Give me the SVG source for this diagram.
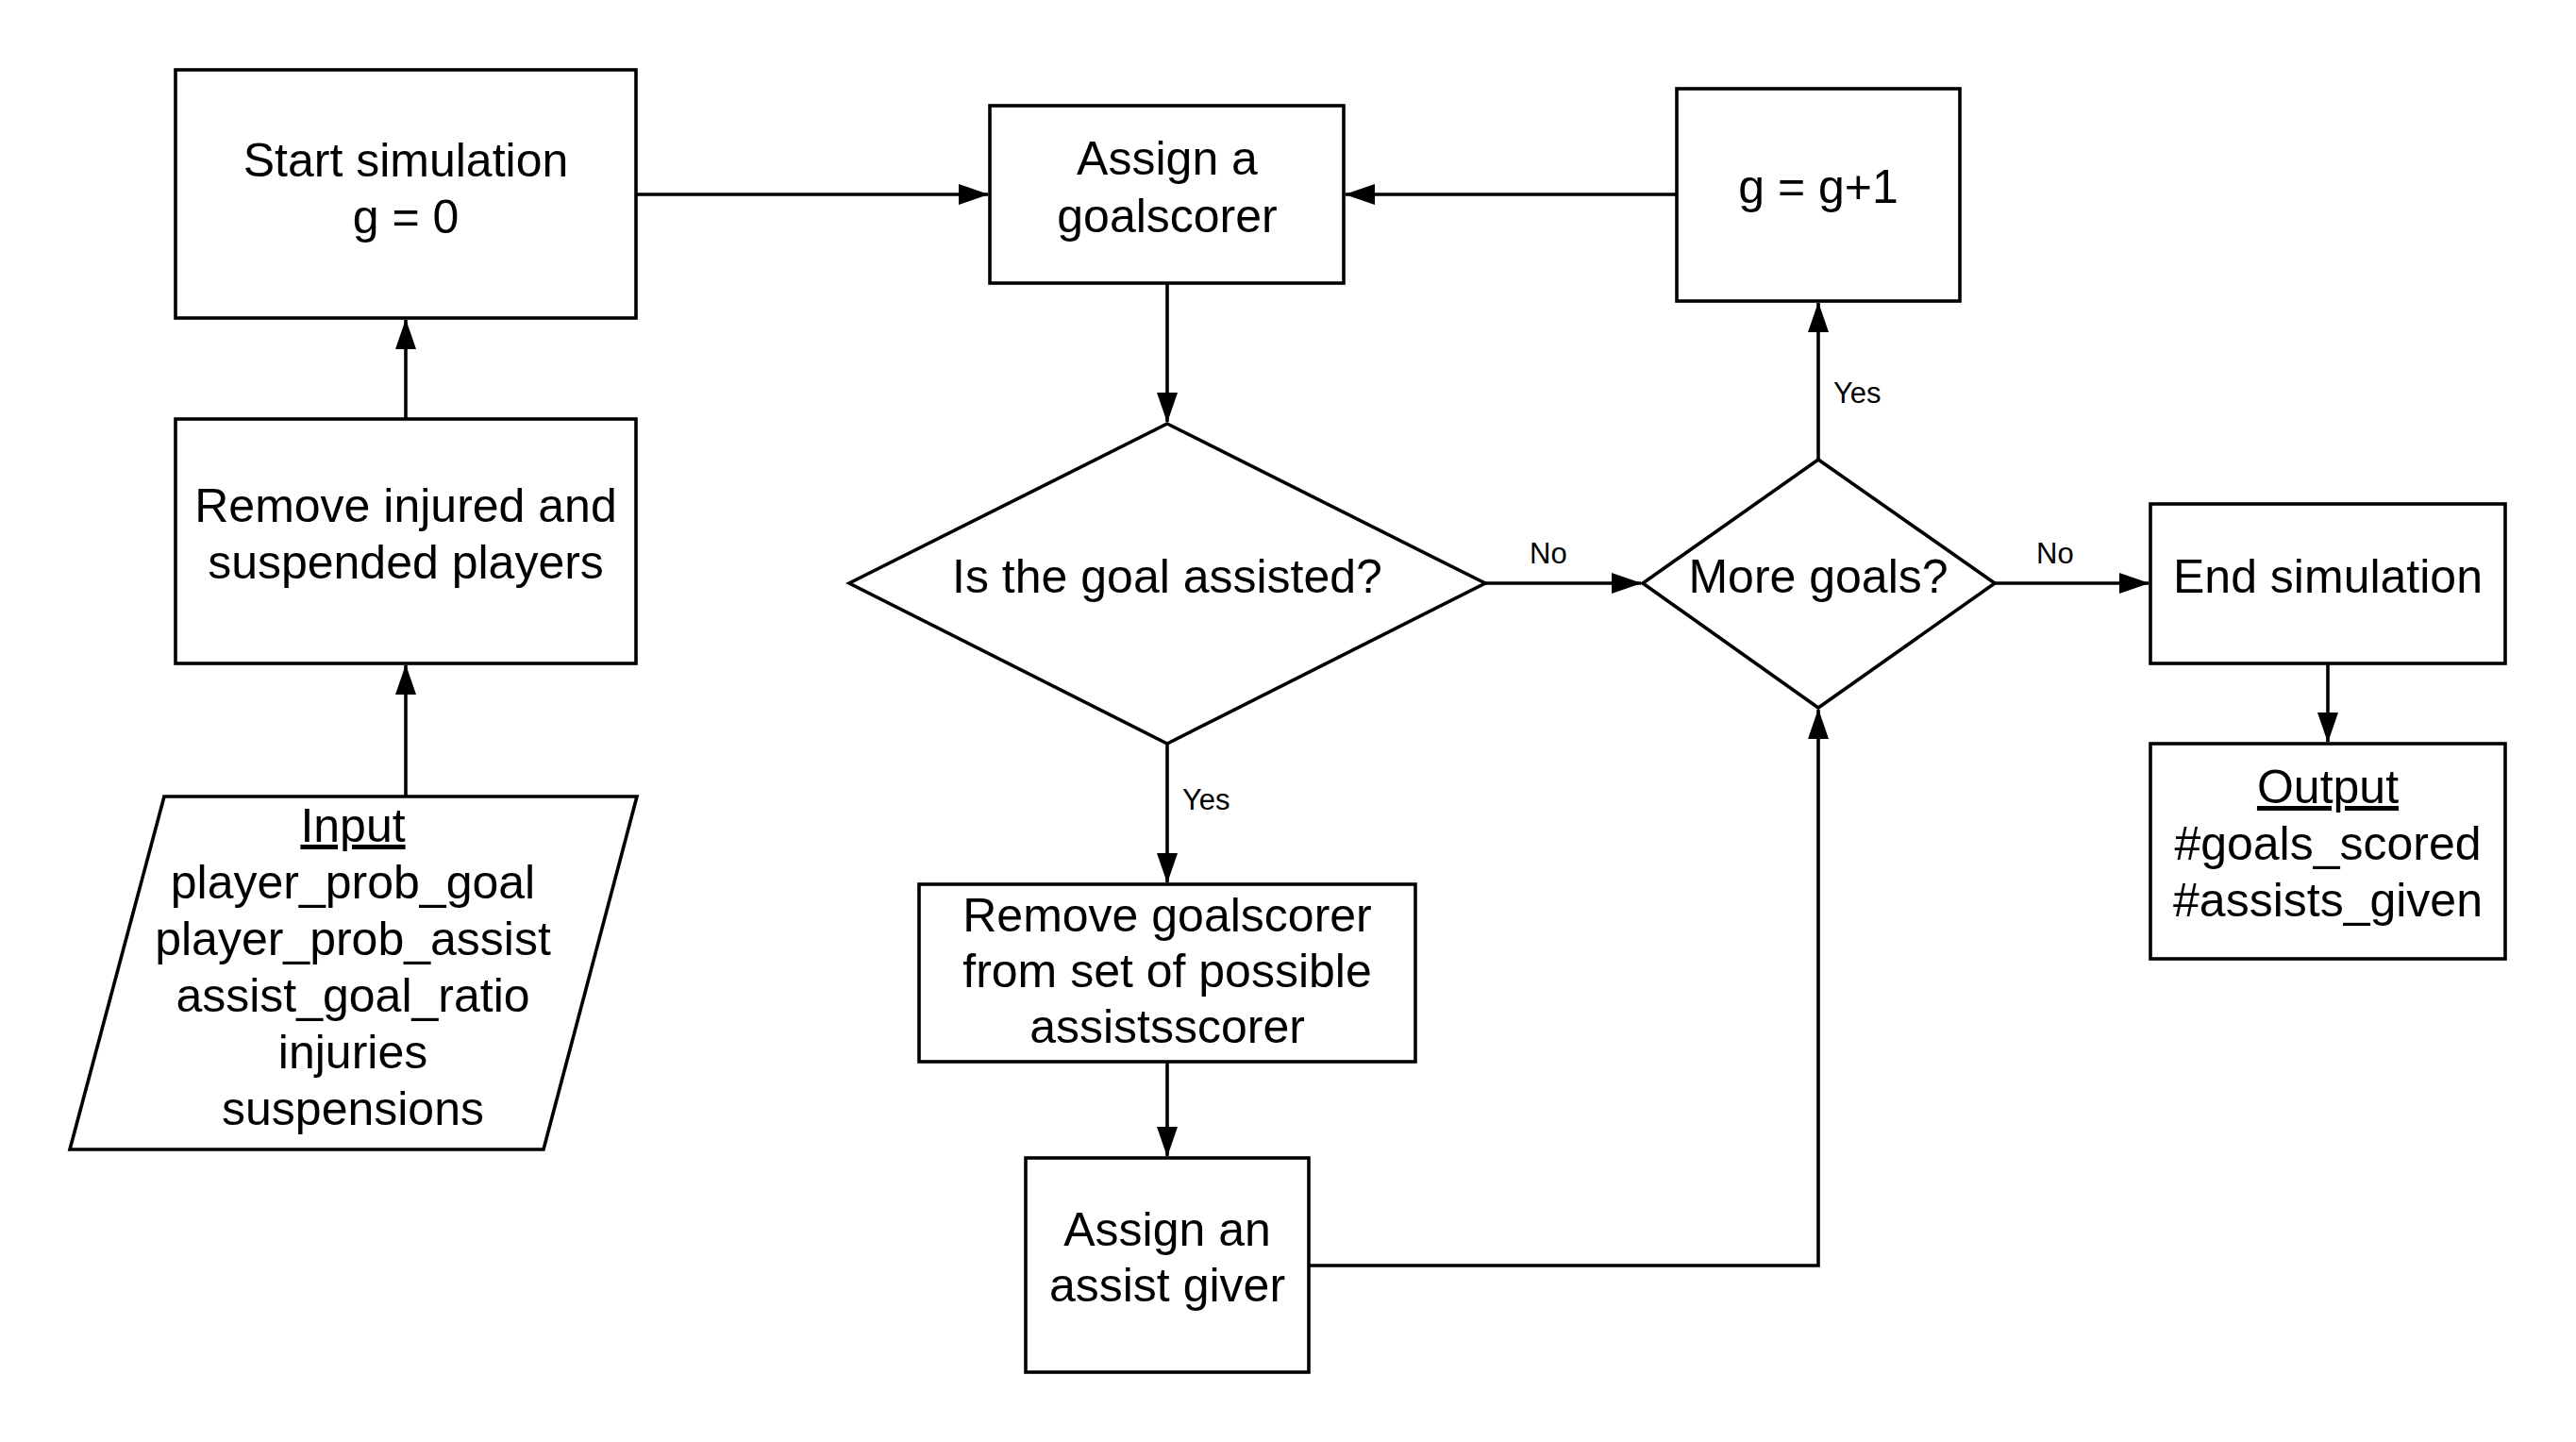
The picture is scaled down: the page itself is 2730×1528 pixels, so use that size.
<svg xmlns="http://www.w3.org/2000/svg" width="2730" height="1528" viewBox="0 0 2730 1528">
  <style>
    .shape { fill: #ffffff; stroke: #000000; stroke-width: 3.6; }
    .conn { fill: none; stroke: #000000; stroke-width: 3.6; }
    .t { font-family: "Liberation Sans", Arial, sans-serif; font-size: 50px; fill: #000000; text-anchor: middle; }
    .lbl { font-family: "Liberation Sans", Arial, sans-serif; font-size: 31px; fill: #000000; text-anchor: start; }
    .u { text-decoration: underline; }
  </style>
  <defs>
    <marker id="arrow" markerUnits="userSpaceOnUse" markerWidth="32" markerHeight="22" viewBox="0 0 32 22" refX="31" refY="11" orient="auto">
      <path d="M0,0 L32,11 L0,22 z" fill="#000000"/>
    </marker>
  </defs>
  <rect x="0" y="0" width="2730" height="1528" fill="#ffffff"/>

  <g id="connectors">
    <path class="conn" d="M674,206 H1047" marker-end="url(#arrow)"/>
    <path class="conn" d="M1777,206 H1426" marker-end="url(#arrow)"/>
    <path class="conn" d="M1237,300 V447" marker-end="url(#arrow)"/>
    <path class="conn" d="M1574,618 H1739" marker-end="url(#arrow)"/>
    <path class="conn" d="M2114,618 H2277" marker-end="url(#arrow)"/>
    <path class="conn" d="M1927,487 V321" marker-end="url(#arrow)"/>
    <path class="conn" d="M1237,788 V935" marker-end="url(#arrow)"/>
    <path class="conn" d="M1237,1125 V1225" marker-end="url(#arrow)"/>
    <path class="conn" d="M1387,1341 H1927 V752" marker-end="url(#arrow)"/>
    <path class="conn" d="M2467,703 V786" marker-end="url(#arrow)"/>
    <path class="conn" d="M430,444 V339" marker-end="url(#arrow)"/>
    <path class="conn" d="M430,844 V705" marker-end="url(#arrow)"/>
    <text class="lbl" x="1621" y="597">No</text>
    <text class="lbl" x="2158" y="597">No</text>
    <text class="lbl" x="1943" y="427">Yes</text>
    <text class="lbl" x="1253" y="858">Yes</text>
  </g>

  <g id="start">
    <rect class="shape" x="186" y="74" width="488" height="263"/>
    <text class="t" x="430" y="187">Start simulation</text>
    <text class="t" x="430" y="247">g = 0</text>
  </g>

  <g id="assign-goalscorer">
    <rect class="shape" x="1049" y="112" width="375" height="188"/>
    <text class="t" x="1237" y="185">Assign a</text>
    <text class="t" x="1237" y="246">goalscorer</text>
  </g>

  <g id="increment">
    <rect class="shape" x="1777" y="94" width="300" height="225"/>
    <text class="t" x="1927" y="215">g = g+1</text>
  </g>

  <g id="remove-injured">
    <rect class="shape" x="186" y="444" width="488" height="259"/>
    <text class="t" x="430" y="553">Remove injured and</text>
    <text class="t" x="430" y="613">suspended players</text>
  </g>

  <g id="input">
    <polygon class="shape" points="174,844 675,844 576,1218 74,1218"/>
    <text class="t" x="374" y="892"><tspan class="u">Input</tspan></text>
    <text class="t" x="374" y="952">player_prob_goal</text>
    <text class="t" x="374" y="1012">player_prob_assist</text>
    <text class="t" x="374" y="1072">assist_goal_ratio</text>
    <text class="t" x="374" y="1132">injuries</text>
    <text class="t" x="374" y="1192">suspensions</text>
  </g>

  <g id="is-assisted">
    <polygon class="shape" points="1237,449 1574,618 1237,788 900,618"/>
    <text class="t" x="1237" y="628">Is the goal assisted?</text>
  </g>

  <g id="more-goals">
    <polygon class="shape" points="1927,487 2114,618 1927,750 1741,618"/>
    <text class="t" x="1927" y="628">More goals?</text>
  </g>

  <g id="end">
    <rect class="shape" x="2279" y="534" width="376" height="169"/>
    <text class="t" x="2467" y="628">End simulation</text>
  </g>

  <g id="output">
    <rect class="shape" x="2279" y="788" width="376" height="228"/>
    <text class="t" x="2467" y="851"><tspan class="u">Output</tspan></text>
    <text class="t" x="2467" y="911">#goals_scored</text>
    <text class="t" x="2467" y="971">#assists_given</text>
  </g>

  <g id="remove-goalscorer">
    <rect class="shape" x="974" y="937" width="526" height="188"/>
    <text class="t" x="1237" y="987">Remove goalscorer</text>
    <text class="t" x="1237" y="1046">from set of possible</text>
    <text class="t" x="1237" y="1105">assistsscorer</text>
  </g>

  <g id="assign-assist">
    <rect class="shape" x="1087" y="1227" width="300" height="227"/>
    <text class="t" x="1237" y="1320">Assign an</text>
    <text class="t" x="1237" y="1379">assist giver</text>
  </g>
</svg>
